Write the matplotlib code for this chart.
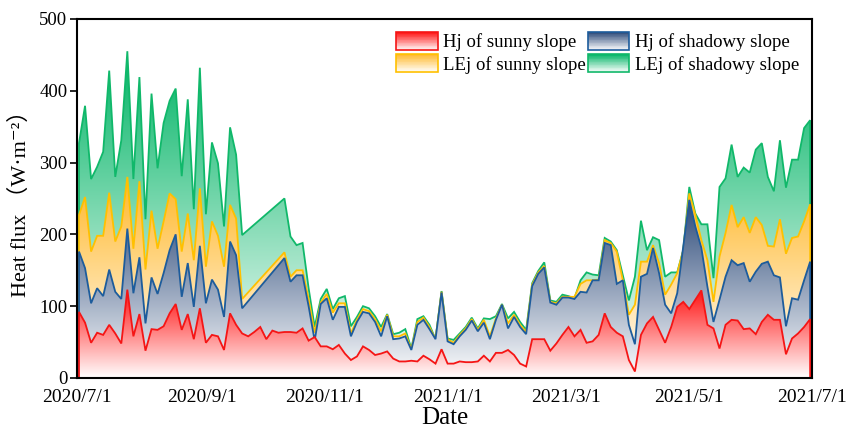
import numpy as np
import pandas as pd
import matplotlib
matplotlib.use('Agg')
import matplotlib.pyplot as plt
import matplotlib.dates as mdates
from matplotlib.patches import Polygon, Rectangle, Patch
from matplotlib.legend_handler import HandlerBase
from matplotlib.colors import to_rgb

# observation dates (every 3 days), None = no data
dates = pd.date_range('2020-07-02', periods=122, freq='3D')

hj_sunny = [92, 77, 49, 63, 60, 74, 62, 48, 123, 58, 89, 38, 68, 67, 72, 90, 103, 67, 89, 54,
            97, 49, 60, 58, 39, 90, 74, 62,
            58, 64, 71, 54, 66, 63,
            64, 64, 63, 69, 52, 57, 44, 44, 40, 46, 34, 25, 30,
            44, 39, 32, 34, 37, 27, 23, 23, 24, 23, 31, 26, 20, 40, 20, 20, 23, 22, 22, 23,
            31, 23, 35, 35, 39, 32,
            20, 16, 54, 54, 54, 38, 48, 60, 71, 58, 67, 49, 51, 60, 90, 71, 63, 58, 25, 9, 60, 76,
            85, 67, 49, 71, 99, 106, 96, 109, 122, 74, 69, 41, 74, 81, 80, 68, 69, 61, 78, 88,
            81, 81, 33, 55, 62, 71, 82]

lej_sunny = [227, 252, 176, 198, 198, 258, 190, 211, 280, 180, 274, 151, 233, 180, 218, 257, 249,
             176, 229, 164, 264, 155, 218, 198, 155, 241, 222, 110,
             None, None, None, None, None, None,
             175, 141, 150, 150, 110, 63, 105, 117, 91, 104, 104, 62, 81,
             96, 93, 82, 65, 88, 58, 58, 62, 40, 78, 84, 71, 54, 120, 54, 49, 60, 69, 82, 67,
             81, 58, 83, 102, 76, 88,
             74, 64, 130, 147, 156, 106, 104, 113, 113, 113, 131, 136, 136, 137, 192, 188, 176,
             136, 88, 102, 162, 162,
             185, 160, 116, 130, 146, 178, 257, 227, 192, 164, 106, 169, 202, 241, 210, 224, 202,
             224, 213, 184, 183, 221, 173, 195, 197, 218, 242]

hj_shadowy = [176, 153, 104, 125, 114, 151, 120, 110, 208, 118, 168, 76, 140, 117, 146, 178, 200,
              113, 160, 99, 184, 104, 137, 123, 85, 190, 171, 97,
              None, None, None, None, None, None,
              167, 134, 143, 143, 100, 52, 103, 111, 81, 99, 99, 58, 78,
              92, 90, 78, 58, 86, 54, 55, 58, 39, 74, 81, 68, 54, 119, 51, 47, 58, 67, 80, 65,
              77, 54, 81, 102, 69, 85,
              71, 61, 128, 145, 154, 105, 102, 112, 112, 110, 120, 119, 136, 136, 188, 185, 131,
              136, 74, 47, 141, 145,
              181, 146, 102, 90, 118, 183, 248, 211, 181, 127, 78, 109, 141, 164, 157, 160, 134,
              148, 159, 162, 143, 140, 72, 111, 109, 136, 162]

lej_shadowy = [327, 379, 277, 294, 315, 428, 280, 331, 455, 277, 419, 221, 396, 292, 355, 386, 403,
               281, 388, 235, 432, 228, 328, 299, 211, 349, 311, 199,
               None, None, None, None, None, None,
               250, 197, 185, 188, 125, 71, 110, 124, 96, 111, 114, 72, 85,
               100, 97, 86, 71, 89, 61, 63, 68, 41, 82, 86, 74, 54, 121, 55, 53, 62, 71, 84, 69,
               83, 82, 86, 103, 83, 92,
               78, 67, 132, 149, 161, 108, 106, 116, 114, 111, 136, 147, 144, 143, 195, 190, 178,
               143, 108, 141, 219, 178,
               196, 192, 141, 147, 147, 178, 266, 229, 214, 214, 139, 266, 278, 325, 280, 293, 286,
               318, 327, 280, 260, 331, 265, 304, 304, 348, 359]

labels = ['Hj of sunny slope', 'LEj of sunny slope', 'Hj of shadowy slope', 'LEj of shadowy slope']
# (line color, gradient top color)
styles = {
    'Hj of sunny slope': ('#f51515', '#ff1010'),
    'LEj of sunny slope': ('#ffc000', '#ffb728'),
    'Hj of shadowy slope': ('#1d5c9c', '#2a4878'),
    'LEj of shadowy slope': ('#10b86a', '#00b465'),
}
series = {
    'Hj of sunny slope': hj_sunny,
    'LEj of sunny slope': lej_sunny,
    'Hj of shadowy slope': hj_shadowy,
    'LEj of shadowy slope': lej_shadowy,
}

plt.rcParams['font.family'] = ['Liberation Serif', 'DejaVu Serif', 'Noto Sans CJK SC']

fig = plt.figure(figsize=(8.46, 4.30), dpi=100)
ax = fig.add_axes([0.091, 0.121, 0.869, 0.835])

xnum = mdates.date2num(dates)


def gradient(top, n=256):
    c = np.array(to_rgb(top))
    t = np.linspace(0, 1, n)[:, None]
    rgb = (1 - t) * np.ones(3) + t * c
    return rgb[:, None, :]


# back to front
draw_order = ['LEj of shadowy slope', 'LEj of sunny slope', 'Hj of shadowy slope', 'Hj of sunny slope']
for z, name in enumerate(draw_order):
    y = np.array(series[name], dtype=float)
    ok = ~np.isnan(y)
    xs, ys = xnum[ok], y[ok]
    line_c, top_c = styles[name]
    verts = np.column_stack([np.concatenate([[xs[0]], xs, [xs[-1]]]),
                             np.concatenate([[0], ys, [0]])])
    poly = Polygon(verts, closed=True, facecolor='none', edgecolor=line_c,
                   linewidth=1.3, zorder=2 + z + 0.5, joinstyle='miter')
    ax.add_patch(poly)
    im = ax.imshow(gradient(top_c), extent=[xs[0], xs[-1], 0, ys.max()], origin='lower',
                   aspect='auto', interpolation='bilinear', zorder=2 + z)
    im.set_clip_path(poly)

ax.set_xlim(mdates.date2num(pd.Timestamp('2020-07-01')), mdates.date2num(pd.Timestamp('2021-07-01')))
ax.set_ylim(0, 500)
ax.set_yticks(range(0, 501, 100))

ax.xaxis.set_major_locator(mdates.MonthLocator(bymonth=[1, 3, 5, 7, 9, 11]))
ax.xaxis.set_minor_locator(mdates.MonthLocator(bymonth=[2, 4, 6, 8, 10, 12]))
ax.xaxis.set_major_formatter(plt.FuncFormatter(
    lambda v, p: '{}/{}/{}'.format(mdates.num2date(v).year, mdates.num2date(v).month, mdates.num2date(v).day)))

ax.tick_params(axis='x', which='major', direction='in', length=5, width=1.2, labelsize=14, pad=8)
ax.tick_params(axis='x', which='minor', direction='in', length=3, width=1.0)
ax.tick_params(axis='y', which='major', direction='out', length=5, width=1.2, labelsize=13.5, pad=2)
for s in ax.spines.values():
    s.set_linewidth(1.5)
    s.set_zorder(10)

ax.set_xlabel('Date', fontsize=18, labelpad=1)
ax.set_ylabel('Heat flux （W·m⁻²）', fontsize=16, labelpad=6)


class GradHandler(HandlerBase):
    def __init__(self, top, edge):
        super().__init__()
        self.top = top
        self.edge = edge

    def create_artists(self, legend, orig_handle, xdescent, ydescent, width, height, fontsize, trans):
        arts = []
        c = np.array(to_rgb(self.top))
        n = 24
        for j in range(n):
            t = (j + 0.5) / n
            col = (1 - t) * np.ones(3) + t * c
            arts.append(Rectangle((-xdescent, -ydescent + height * j / n), width, height / n + 0.3,
                                  facecolor=col, edgecolor='none', transform=trans))
        arts.append(Rectangle((-xdescent, -ydescent), width, height, facecolor='none',
                              edgecolor=self.edge, linewidth=1.2, transform=trans))
        return arts


handles = [Patch(label=l) for l in labels]
hmap = {h: GradHandler(styles[l][1], styles[l][0]) for h, l in zip(handles, labels)}
ax.legend(handles=handles, labels=labels, handler_map=hmap, ncol=2, loc='upper right',
          frameon=False, fontsize=13.5, handlelength=2.2, handleheight=1.1,
          handletextpad=0.3, columnspacing=0.1, labelspacing=0.15,
          borderaxespad=0.3, bbox_to_anchor=(1.0, 1.0))

fig.savefig('out.png', dpi=100)
